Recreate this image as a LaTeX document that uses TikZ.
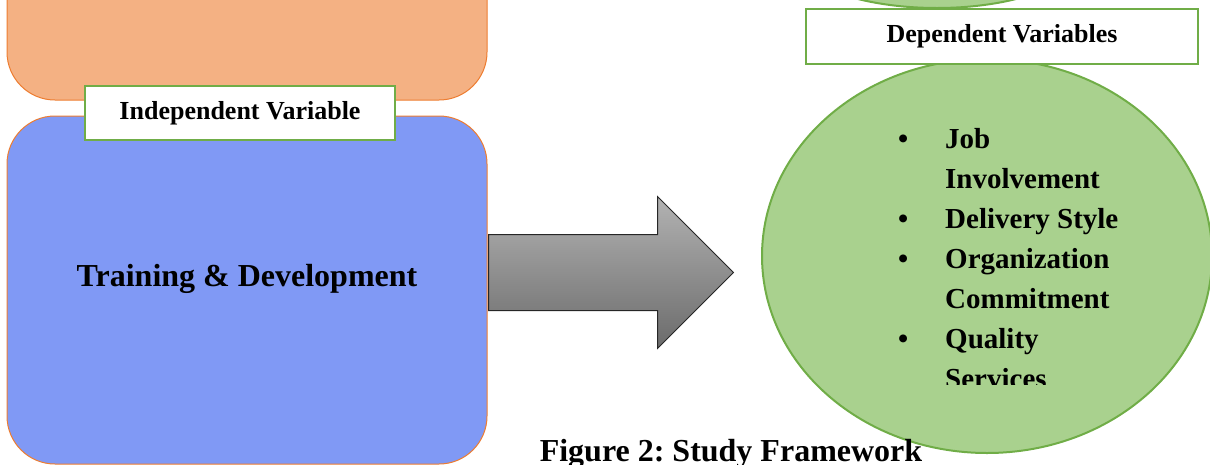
\documentclass[tikz,border=0pt]{standalone}
\usepackage{fontspec}
\setmainfont{Liberation Serif}
\usepackage{tikz}
\usetikzlibrary{arrows,positioning,calc,shapes.geometric,shapes.arrows}
\definecolor{boxorange}{HTML}{F4B183}
\definecolor{lineorange}{HTML}{ED7D31}
\definecolor{boxblue}{HTML}{8099F5}
\definecolor{boxgreen}{HTML}{A9D18E}
\definecolor{linegreen}{HTML}{70AD47}
\tikzstyle{bigbox}=[draw=lineorange,line width=1pt,rounded corners=48pt,minimum width=480pt,inner sep=0pt]
\tikzstyle{varlabel}=[draw=linegreen,line width=2.5pt,fill=white,font=\fontsize{26}{30}\selectfont\bfseries,inner sep=0pt]
\tikzstyle{blob}=[ellipse,draw=linegreen,line width=2pt,fill=boxgreen,inner sep=0pt]
\tikzstyle{bigtext}=[font=\fontsize{32}{38}\selectfont\bfseries,inner sep=0pt]
\tikzstyle{listtext}=[font=\fontsize{29}{40}\selectfont\bfseries,align=left,inner sep=0pt]
\frenchspacing

\begin{document}
\begin{tikzpicture}[x=1pt,y=-1pt]
\useasboundingbox (0,0) rectangle (1210,464);
\node [bigbox, fill=boxorange, minimum height=300pt] (topbox) at (247,-50) {};
\node [bigbox, fill=boxblue, minimum height=348pt] (indbox) at (247,290) {};
\node [varlabel, minimum width=310pt, minimum height=54pt] (indlabel) at (240,113) {Independent Variable};
\node [bigtext] (tdtext) at (247,279) {Training \& Development};
\node [single arrow, draw=black!85, line width=1pt, top color=black!30, bottom color=black!58,
  minimum height=245pt, single arrow head extend=38pt, inner xsep=0pt, inner ysep=37.5pt,
  anchor=tail] (mainarrow) at (488,272.5) {};
\node [blob, minimum width=300pt, minimum height=120pt] (topblob) at (937,-52) {};
\node [blob, minimum width=450pt, minimum height=394pt] (depblob) at (987,256) {};
\node [varlabel, minimum width=392pt, minimum height=55pt] (deplabel) at (1002,36.5) {Dependent Variables};
\begin{scope}
\clip (890,118) rectangle (1138,384);
\node [listtext, anchor=north west] (deplist) at (898,128) {%
  \makebox[47pt][l]{\textbullet}Job\\
  \hspace*{47pt}Involvement\\
  \makebox[47pt][l]{\textbullet}Delivery Style\\
  \makebox[47pt][l]{\textbullet}Organization\\
  \hspace*{47pt}Commitment\\
  \makebox[47pt][l]{\textbullet}Quality\\
  \hspace*{47pt}Services};
\end{scope}
\node [bigtext, anchor=base] (caption) at (731,461) {Figure 2: Study Framework};
\end{tikzpicture}
\end{document}
